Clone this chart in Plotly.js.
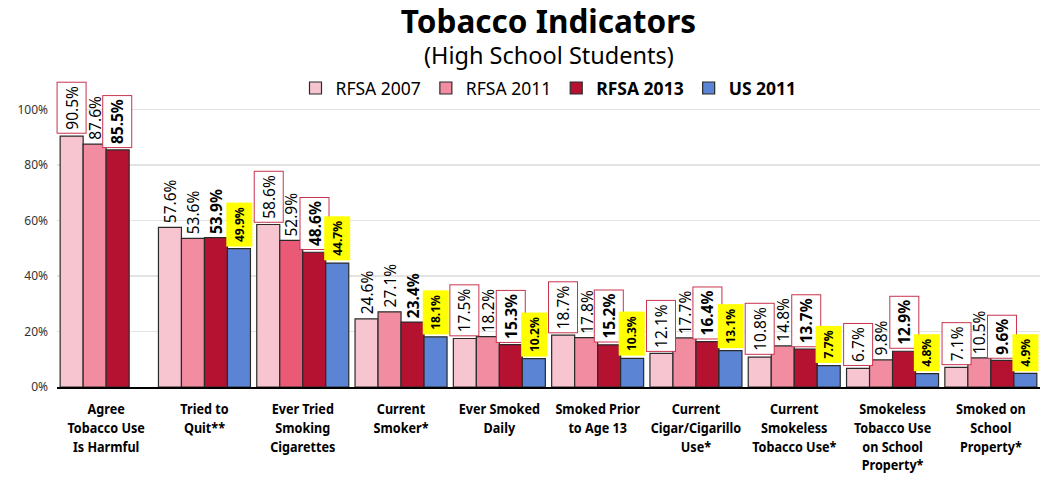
<!DOCTYPE html>
<html>
<head>
<meta charset="utf-8">
<script src="https://cdn.plot.ly/plotly-3.0.1.min.js"></script>
<style>
html,body{margin:0;padding:0;background:#fff;}
#chart{width:1048px;height:477px;}
</style>
</head>
<body>
<div id="chart"></div>
<script>
const categories = [
  "Agree<br>Tobacco Use<br>Is Harmful",
  "Tried to<br>Quit**",
  "Ever Tried<br>Smoking<br>Cigarettes",
  "Current<br>Smoker*",
  "Ever Smoked<br>Daily",
  "Smoked Prior<br>to Age 13",
  "Current<br>Cigar/Cigarillo<br>Use*",
  "Current<br>Smokeless<br>Tobacco Use*",
  "Smokeless<br>Tobacco Use<br>on School<br>Property*",
  "Smoked on<br>School<br>Property*"
];
const rfsa2007 = [90.5, 57.6, 58.6, 24.6, 17.5, 18.7, 12.1, 10.8, 6.7, 7.1];
const rfsa2011 = [87.6, 53.6, 52.9, 27.1, 18.2, 17.8, 17.7, 14.8, 9.8, 10.5];
const rfsa2013 = [85.5, 53.9, 48.6, 23.4, 15.3, 15.2, 16.4, 13.7, 12.9, 9.6];
const us2011   = [null, 49.9, 44.7, 18.1, 10.2, 10.3, 13.1, 7.7, 4.8, 4.9];
const boxed2007 = [true, false, true, false, true, true, true, true, true, true];
const boxed2013 = [true, false, true, false, true, true, true, true, true, true];
const yTicks = [0, 20, 40, 60, 80, 100];

const xs = categories.map((c, i) => i);
const c07 = '#F7C5D0', c11 = '#F28DA1', c11b = '#EA5A77', c13 = '#B51232', cUS = '#5B85D4';
const lineCol = '#2a2a2a';
const bargap = 0.064;
const bw = (1 - bargap) / 4;

const font = '"Noto Sans", "Open Sans", sans-serif';

function bar(name, y, color) {
  return {type: 'bar', name: name, x: xs, y: y,
    marker: {color: color, line: {color: lineCol, width: 1.2}},
    hoverinfo: 'skip', cliponaxis: false};
}
const traces = [
  bar('RFSA 2007', rfsa2007, c07),
  bar('RFSA 2011', rfsa2011, rfsa2011.map((v, i) => i === 2 ? c11b : c11)),
  bar('<b>RFSA 2013</b>', rfsa2013, c13),
  bar('<b>US 2011</b>', us2011, cUS)
];

const annotations = [];
const series = [rfsa2007, rfsa2011, rfsa2013, us2011];
series.forEach((arr, j) => {
  arr.forEach((v, i) => {
    if (v === null) return;
    const a = {x: i + (j - 1.5) * bw, y: v, xref: 'x', yref: 'y',
      text: v.toFixed(1) + '%', showarrow: false, textangle: -90,
      xanchor: 'center', yanchor: 'bottom', yshift: 2,
      font: {family: font, size: 15.5, color: '#000'}};
    if (j === 0 && boxed2007[i]) {
      a.bordercolor = '#C8344F'; a.borderwidth = 1; a.borderpad = 3; a.bgcolor = '#fff';
    }
    if (j === 2) {
      a.text = '<b>' + a.text + '</b>';
      if (boxed2013[i]) { a.bordercolor = '#C8344F'; a.borderwidth = 1; a.borderpad = 3; a.bgcolor = '#fff'; }
    }
    if (j === 3) {
      a.text = '<b>' + a.text + '</b>';
      a.bgcolor = '#FFFF00'; a.borderpad = 4;
      a.font = {family: font, size: 12, color: '#000'};
    }
    annotations.push(a);
  });
});
annotations.push({xref: 'paper', yref: 'paper', x: 0.5, y: (387 - 55) / 305,
  xanchor: 'center', yanchor: 'middle', showarrow: false,
  text: '(High School Students)', font: {family: font, size: 23.5, color: '#000'}});

const layout = {
  width: 1048, height: 477,
  margin: {l: 57, r: 8, t: 82, b: 90},
  paper_bgcolor: '#fff', plot_bgcolor: '#fff',
  title: {text: '<b>Tobacco Indicators</b>', x: 0.5, xanchor: 'center', xref: 'paper',
    y: 1 - 22 / 477, yref: 'container', yanchor: 'middle',
    font: {family: font, size: 31.5, color: '#000'}},
  barmode: 'group', bargap: bargap, bargroupgap: 0,
  showlegend: true,
  legend: {orientation: 'h', x: 0.5, xanchor: 'center', y: 0.98, yanchor: 'middle',
    font: {family: font, size: 17.5, color: '#000'}, traceorder: 'normal',
    itemwidth: 30, bgcolor: 'rgba(0,0,0,0)'},
  xaxis: {range: [-0.5, 9.5], tickvals: xs, ticktext: categories, tickangle: 0,
    tickfont: {family: font, size: 14.5, color: '#000', weight: 'bold'},
    showline: true, linecolor: '#000', linewidth: 1.5, ticks: '', showgrid: false,
    zeroline: false, fixedrange: true, ticklabelstandoff: 8},
  yaxis: {range: [0, 110], tickvals: yTicks, ticktext: yTicks.map(v => v + '%'),
    tickfont: {family: font, size: 12, color: '#333'},
    showgrid: true, gridcolor: '#E3E3E3', gridwidth: 1.5, zeroline: false,
    showline: false, ticks: '', fixedrange: true, ticklabelstandoff: 8},
  annotations: annotations
};

Plotly.newPlot('chart', traces, layout, {displayModeBar: false, staticPlot: true}).then(gd => {
  // slightly condense x tick labels to match the narrower original font
  gd.querySelectorAll('.xtick text').forEach(t => {
    const cx = parseFloat(t.getAttribute('x')) || 0;
    const tr = t.getAttribute('transform') || '';
    t.setAttribute('transform', tr + ' translate(' + cx + ',0) scale(0.87,1) translate(' + (-cx) + ',0)');
  });
});
</script>
</body>
</html>
